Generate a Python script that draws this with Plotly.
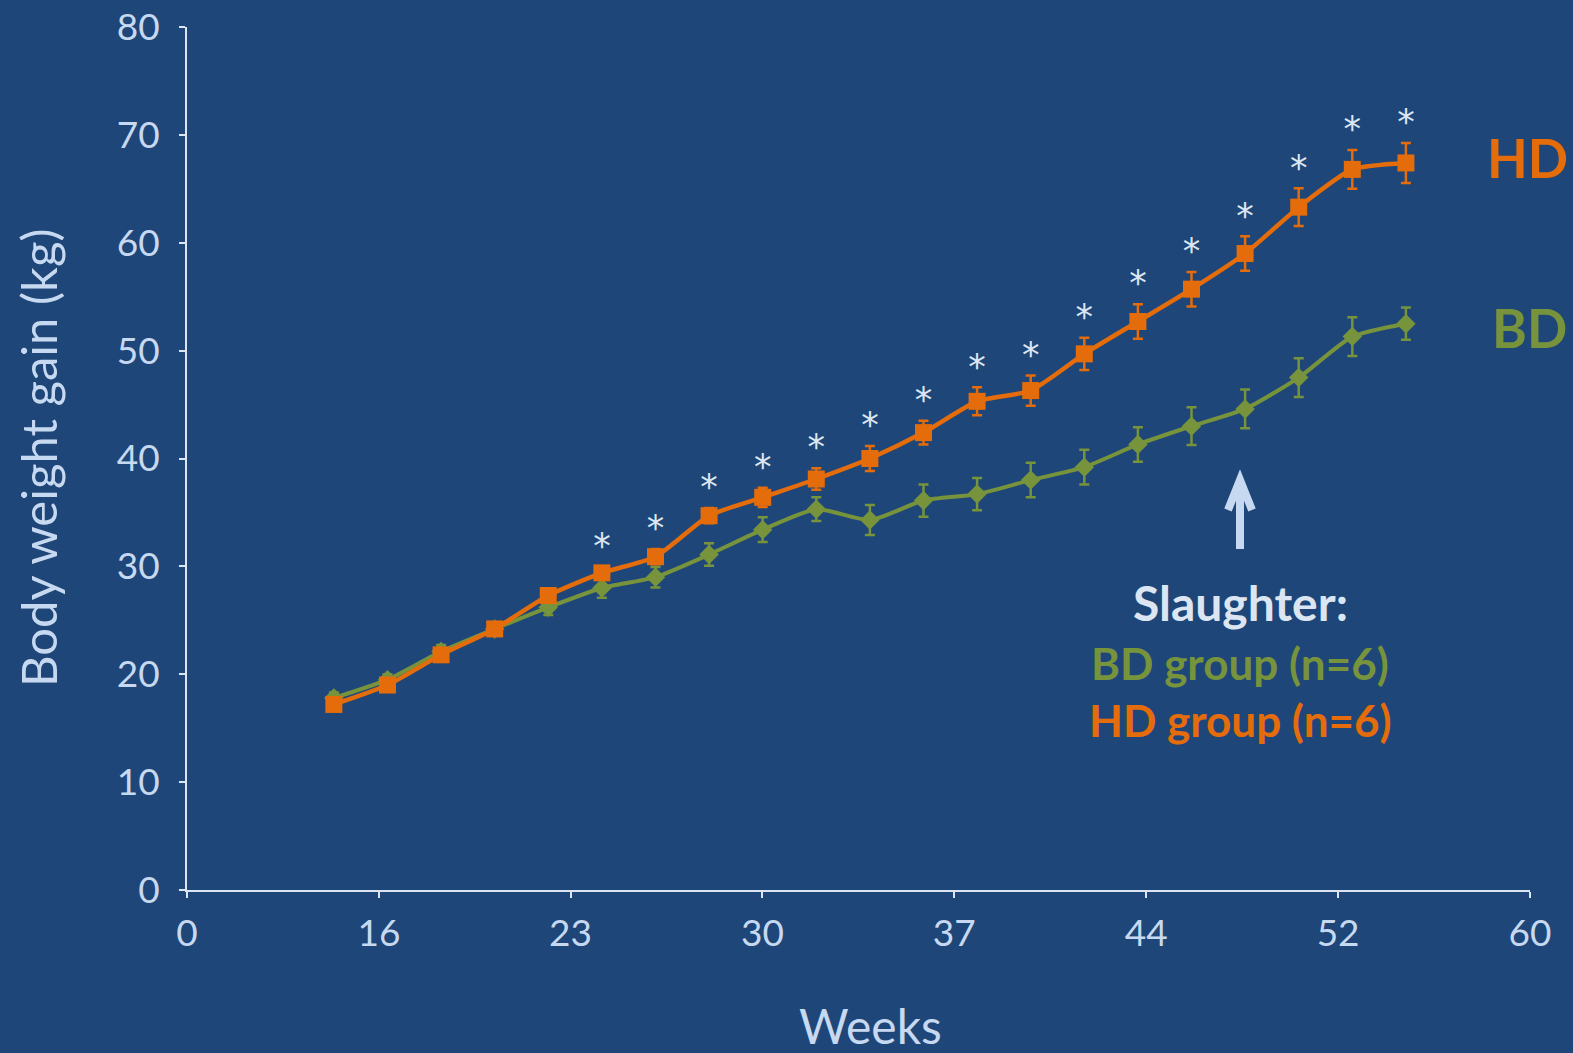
import plotly.graph_objects as go

# Weeks of measurement
weeks = [14, 16, 18, 20, 22, 24, 26, 28, 30, 32, 34, 36, 38, 40, 42, 44, 46, 48, 50, 52, 54]

# HD group: mean body weight gain (kg) and SE
hd_mean = [17.2, 19.0, 21.8, 24.2, 27.3, 29.4, 30.9, 34.7, 36.4, 38.1, 40.0, 42.4,
           45.3, 46.3, 49.7, 52.7, 55.7, 59.0, 63.3, 66.8, 67.4]
hd_err = [0.5, 0.5, 0.5, 0.5, 0.6, 0.6, 0.7, 0.7, 0.9, 1.0, 1.15, 1.1,
          1.3, 1.4, 1.5, 1.6, 1.6, 1.6, 1.75, 1.8, 1.85]

# BD group: mean body weight gain (kg) and SE
bd_mean = [17.8, 19.5, 22.1, 24.2, 26.2, 28.0, 29.0, 31.1, 33.4, 35.3, 34.3, 36.1,
           36.7, 38.0, 39.2, 41.3, 43.0, 44.6, 47.5, 51.3, 52.5]
bd_err = [0.5, 0.5, 0.6, 0.6, 0.7, 0.9, 0.95, 1.05, 1.15, 1.1, 1.4, 1.5,
          1.5, 1.6, 1.6, 1.6, 1.75, 1.8, 1.8, 1.8, 1.5]

# Weeks with a significant difference between groups
sig_weeks = [24, 26, 28, 30, 32, 34, 36, 38, 40, 42, 44, 46, 48, 50, 52, 54]

# Axis ticks (positions in weeks, printed labels)
tick_weeks = [8.52, 15.68, 22.83, 29.99, 37.15, 44.31, 51.47, 58.63]
tick_labels = ["0", "16", "23", "30", "37", "44", "52", "60"]
y_ticks = [0, 10, 20, 30, 40, 50, 60, 70, 80]

BG = "#1F4678"
ORANGE = "#E46C0A"
GREEN = "#77933C"
LIGHT = "#C6D9F1"
WHITE_TXT = "#DCE6F2"
FONT = "Lato"

W, H = 1573, 1053
L, R, T, B = 187, 43, 27, 163
PW, PH = W - L - R, H - T - B


def px(x):
    return (x - L) / PW


def py(y):
    return (H - B - y) / PH


fig = go.Figure()

fig.add_trace(go.Scatter(
    x=weeks, y=bd_mean, mode="lines+markers", name="BD",
    line=dict(color=GREEN, width=4, shape="spline", smoothing=0.6),
    marker=dict(symbol="diamond", size=15, color=GREEN),
    error_y=dict(type="data", array=bd_err, color=GREEN, thickness=2.5, width=5),
))

fig.add_trace(go.Scatter(
    x=weeks, y=hd_mean, mode="lines+markers", name="HD",
    line=dict(color=ORANGE, width=4.5, shape="spline", smoothing=0.6),
    marker=dict(symbol="square", size=17, color=ORANGE),
    error_y=dict(type="data", array=hd_err, color=ORANGE, thickness=2.5, width=5),
))

# Significance asterisks above the HD error bars
sig_y = [hd_mean[weeks.index(w)] + hd_err[weeks.index(w)] for w in sig_weeks]
fig.add_trace(go.Scatter(
    x=sig_weeks, y=sig_y, mode="text", text=["*"] * len(sig_weeks),
    textposition="top center",
    textfont=dict(family="DejaVu Sans", size=35, color=WHITE_TXT),
    hoverinfo="skip",
))

axis_common = dict(
    showgrid=False, zeroline=False, showline=True, linecolor=WHITE_TXT, linewidth=2,
    ticks="outside", ticklen=6, tickwidth=2, tickcolor=WHITE_TXT, automargin=False,
    tickfont=dict(family=FONT, size=37, color=LIGHT),
)

fig.update_layout(
    width=W, height=H,
    paper_bgcolor=BG, plot_bgcolor=BG,
    margin=dict(l=L, r=R, t=T, b=B),
    showlegend=False,
    xaxis=dict(range=[tick_weeks[0], tick_weeks[-1]], tickmode="array",
               tickvals=tick_weeks, ticktext=tick_labels, ticklabelstandoff=4,
               **axis_common),
    yaxis=dict(range=[0, 80], tickmode="array", tickvals=y_ticks,
               ticklabelstandoff=12, **axis_common),
)

annotations = [
    dict(text="Weeks", x=px(870), y=py(1025), font=dict(size=48, color=LIGHT)),
    dict(text="Body weight gain (kg)", x=px(38), y=py(458), textangle=-90,
         font=dict(size=49, color=LIGHT)),
    dict(text="<b>HD</b>", x=px(1527), y=py(157), font=dict(size=53, color=ORANGE)),
    dict(text="<b>BD</b>", x=px(1529), y=py(327), font=dict(size=53, color=GREEN)),
    dict(text="<b>Slaughter:</b>", x=px(1240), y=py(602), font=dict(size=48, color=WHITE_TXT)),
    dict(text="<b>BD group (n=6)</b>", x=px(1240), y=py(663), font=dict(size=44, color=GREEN)),
    dict(text="<b>HD group (n=6)</b>", x=px(1240), y=py(720), font=dict(size=44, color=ORANGE)),
]
for a in annotations:
    a["font"]["family"] = FONT
    fig.add_annotation(xref="paper", yref="paper", showarrow=False,
                       xanchor="center", yanchor="middle", **a)

# Slaughter arrow
ARROW = "#C6D9F1"
fig.add_shape(type="line", xref="paper", yref="paper",
              x0=px(1240), x1=px(1240), y0=py(549), y1=py(480),
              line=dict(color=ARROW, width=8))
fig.add_shape(type="path", xref="paper", yref="paper",
              path=f"M {px(1228)},{py(510)} L {px(1240)},{py(480)} L {px(1252)},{py(510)}",
              line=dict(color=ARROW, width=8))

fig.write_html("out.html")
